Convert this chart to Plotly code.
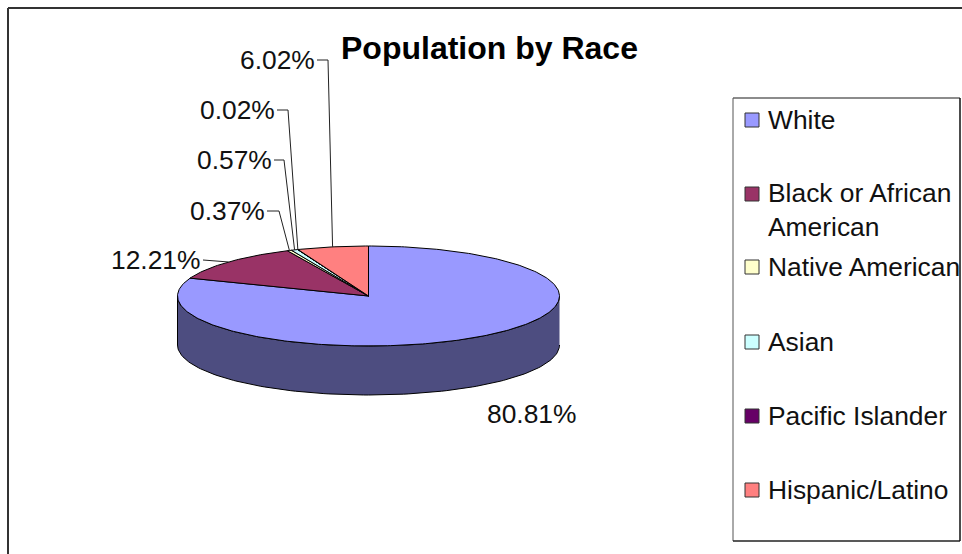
import numpy as np
import plotly.graph_objects as go

categories = ["White", "Black or African<br>American", "Native American", "Asian", "Pacific Islander", "Hispanic/Latino"]
values = [80.81, 12.21, 0.37, 0.57, 0.02, 6.02]
value_labels = ["80.81%", "12.21%", "0.37%", "0.57%", "0.02%", "6.02%"]
colors = ["#9999FF", "#993366", "#FFFFCC", "#CCFFFF", "#660066", "#FF8080"]
side_color = "#4D4D80"
title = "Population by Race"

CX, CY, RX, RY, DEPTH = 368.5, 296, 191, 50, 49
LEG_X, LEG_TEXT_X = 752, 765.5
LEG_Y = [120, 194, 267, 342, 416, 490]
FS = 26.4
INK = "#111111"

# label anchor (right edge of text) and elbow of the leader, per category
LABEL_POS = [(579, 414), (203, 260), (267, 211), (274, 160), (277, 110), (317, 60)]
ELBOW_X = [None, None, 279, 284, 288, 328]


def ell(frac):
    a = 2 * np.pi * np.asarray(frac, dtype=float) / 100
    return CX + RX * np.sin(a), CY - RY * np.cos(a)


fig = go.Figure()

# extruded front wall (visible lower half of the ellipse)
t = np.linspace(25, 75, 121)
xs, ys = ell(t)
fig.add_trace(go.Scatter(
    x=np.r_[xs, xs[::-1]], y=np.r_[ys, ys[::-1] + DEPTH], mode="lines", fill="toself",
    fillcolor=side_color, line=dict(color="black", width=1), hoverinfo="skip", showlegend=False))

# top face slices
start = 0.0
mids = []
for name, v, c in zip(categories, values, colors):
    t = np.linspace(start, start + v, max(3, int(v * 4)))
    xs, ys = ell(t)
    fig.add_trace(go.Scatter(
        x=np.r_[CX, xs, CX], y=np.r_[CY, ys, CY], mode="lines", fill="toself", fillcolor=c,
        line=dict(color="black", width=1), name=name.replace("<br>", " "), showlegend=False,
        hoverinfo="name"))
    mids.append(start + v / 2)
    start += v

# leader lines
for i in range(1, 6):
    mx, my = ell(mids[i])
    lx, ly = LABEL_POS[i]
    if ELBOW_X[i] is None:
        lxs, lys = [lx, float(mx)], [ly, float(my)]
    else:
        lxs, lys = [lx, ELBOW_X[i], float(mx)], [ly, ly, float(my)]
    fig.add_trace(go.Scatter(x=lxs, y=lys, mode="lines", line=dict(color="#222222", width=1),
                             hoverinfo="skip", showlegend=False))

# legend swatches
fig.add_trace(go.Scatter(
    x=[LEG_X] * len(colors), y=LEG_Y, mode="markers", hoverinfo="skip", showlegend=False,
    marker=dict(symbol="square", size=14, color=colors, line=dict(color="#333333", width=1))))

anns = [dict(x=lx, y=ly, text=s, showarrow=False, xanchor="right", yanchor="middle",
             font=dict(family="Liberation Sans", size=FS, color=INK))
        for (lx, ly), s in zip(LABEL_POS, value_labels)]
for name, y in zip(categories, LEG_Y):
    lines = name.count("<br>")
    anns.append(dict(x=LEG_TEXT_X, y=y + 16 * lines, text=name, showarrow=False, xanchor="left",
                     yanchor="middle", align="left",
                     font=dict(family="Liberation Sans", size=FS, color=INK)))
anns.append(dict(x=489.5, y=48, text="<b>%s</b>" % title, showarrow=False, xanchor="center",
                 yanchor="middle", font=dict(family="Liberation Sans", size=32, color="black")))

frame = dict(color="#333333", width=2)
shapes = [
    dict(type="line", xref="x", yref="y", x0=8, y0=8, x1=962, y1=8, line=frame),
    dict(type="line", xref="x", yref="y", x0=8, y0=8, x1=8, y1=554, line=frame),
    dict(type="line", xref="x", yref="y", x0=733, y0=98, x1=960, y1=98, line=dict(color="#666666", width=1.5)),
    dict(type="line", xref="x", yref="y", x0=733, y0=98, x1=733, y1=541, line=dict(color="#555555", width=1)),
    dict(type="line", xref="x", yref="y", x0=733, y0=541, x1=960, y1=541, line=dict(color="#222222", width=1.5)),
    dict(type="line", xref="x", yref="y", x0=960, y0=98, x1=960, y1=541, line=dict(color="#111111", width=1.5)),
]

fig.update_layout(
    width=962, height=554, margin=dict(l=0, r=0, t=0, b=0),
    paper_bgcolor="white", plot_bgcolor="white", showlegend=False,
    xaxis=dict(range=[0, 962], visible=False, fixedrange=True),
    yaxis=dict(range=[554, 0], visible=False, fixedrange=True),
    annotations=anns, shapes=shapes)
fig.write_html("out.html", config=dict(displayModeBar=False),
               post_script="document.body.style.margin='0';document.documentElement.style.overflow='hidden';")
